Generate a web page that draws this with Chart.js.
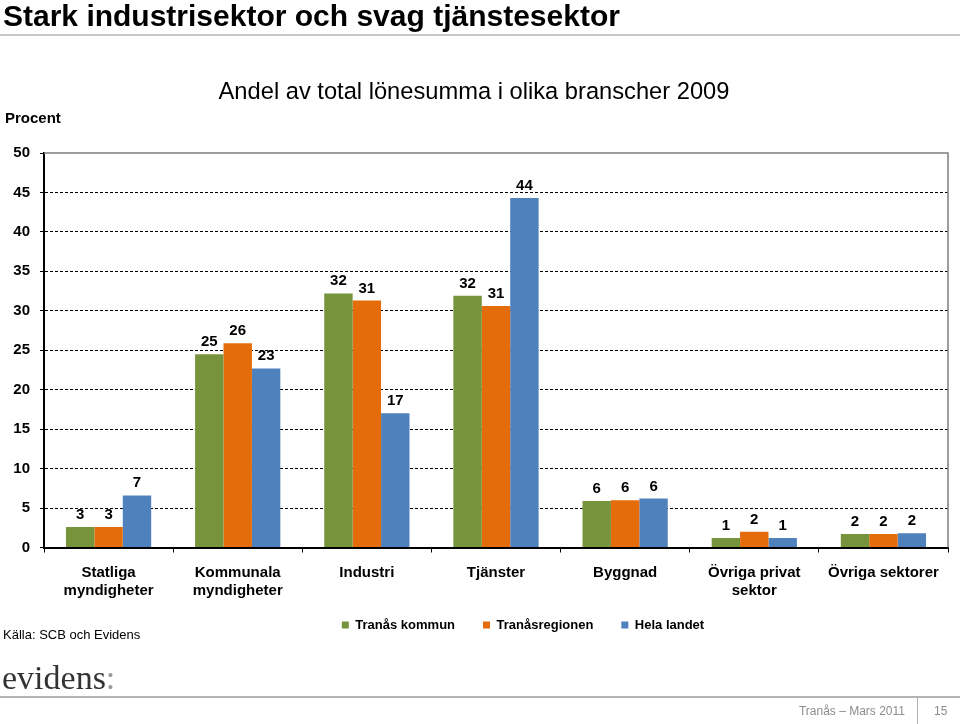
<!DOCTYPE html>
<html>
<head>
<meta charset="utf-8">
<script src="https://cdn.jsdelivr.net/npm/chart.js@4/dist/chart.umd.min.js"></script>
<style>
  body { margin: 0; background: #fff; font-family: "Liberation Sans", Arial, sans-serif; }
  #wrap { position: relative; width: 960px; height: 724px; overflow: hidden; }
  #wrap canvas { position: absolute; left: 0; top: 0; }
  .txt { position: absolute; white-space: nowrap; }
</style>
</head>
<body>
<div id="wrap">
  <canvas id="chart" width="960" height="724"></canvas>
  <div class="txt" style="left:3px;top:1px;font-size:30px;line-height:29px;font-weight:bold;color:#000;">Stark industrisektor och svag tjänstesektor</div>
  <div style="position:absolute;left:0;top:34px;width:960px;height:2px;background:#c8c8c8;"></div>
  <div class="txt" style="left:5px;top:109px;font-size:15px;line-height:18px;font-weight:bold;">Procent</div>
  <div class="txt" style="left:3px;top:627px;font-size:13px;line-height:16px;">Källa: SCB och Evidens</div>
  <div class="txt" style="left:2px;top:661px;font-family:'Liberation Serif','DejaVu Serif',serif;font-size:34px;line-height:34px;color:#333;">evidens<span style="color:#999;">:</span></div>
  <div style="position:absolute;left:0;top:696px;width:960px;height:2px;background:#b4b4b4;"></div>
  <div style="position:absolute;left:917px;top:698px;width:1px;height:26px;background:#b4b4b4;"></div>
  <div class="txt" style="right:55px;top:704px;font-size:12px;line-height:14px;color:#8c8c8c;">Tranås – Mars 2011</div>
  <div class="txt" style="left:934px;top:704px;font-size:12px;line-height:14px;color:#8c8c8c;">15</div>
</div>
<script>
const categories = [["Statliga", "myndigheter"], ["Kommunala", "myndigheter"], "Industri", "Tjänster", "Byggnad", ["Övriga privat", "sektor"], "Övriga sektorer"];
const tranasKommun = [2.6, 24.5, 32.2, 31.9, 5.9, 1.2, 1.7];
const tranasRegionen = [2.6, 25.9, 31.3, 30.6, 6.0, 2.0, 1.7];
const helaLandet = [6.6, 22.7, 17.0, 44.3, 6.2, 1.2, 1.8];

const green = "#77933C";
const orange = "#E46C0A";
const blue = "#4F81BD";

// value labels above the bars, rounded like the original
const barLabels = {
  id: "barLabels",
  afterDatasetsDraw(chart) {
    const ctx = chart.ctx;
    ctx.save();
    ctx.font = "bold 15px 'Liberation Sans', Arial, sans-serif";
    ctx.fillStyle = "#000";
    ctx.textAlign = "center";
    ctx.textBaseline = "alphabetic";
    chart.data.datasets.forEach((ds, i) => {
      chart.getDatasetMeta(i).data.forEach((bar, j) => {
        ctx.fillText(Math.round(ds.data[j]), bar.x, bar.y - 8);
      });
    });
    ctx.restore();
  }
};

// grey frame on top and right of the plot area
const plotFrame = {
  id: "plotFrame",
  afterDraw(chart) {
    const a = chart.chartArea;
    const ctx = chart.ctx;
    ctx.save();
    ctx.strokeStyle = "#7f7f7f";
    ctx.lineWidth = 1.5;
    ctx.beginPath();
    ctx.moveTo(a.left, a.top);
    ctx.lineTo(a.right, a.top);
    ctx.lineTo(a.right, a.bottom);
    ctx.stroke();
    ctx.restore();
  }
};

// move the legend right and up, as in the original slide
const legendShift = {
  id: "legendShift",
  afterLayout(chart) {
    const lg = chart.legend;
    lg.left += 49;
    lg.right += 49;
    lg.top -= 15;
    lg.bottom -= 15;
  }
};

new Chart(document.getElementById("chart"), {
  type: "bar",
  data: {
    labels: categories,
    datasets: [
      { label: "Tranås kommun", data: tranasKommun, backgroundColor: green },
      { label: "Tranåsregionen", data: tranasRegionen, backgroundColor: orange },
      { label: "Hela landet", data: helaLandet, backgroundColor: blue }
    ]
  },
  options: {
    responsive: false,
    animation: false,
    layout: { padding: { top: 77.8, right: 12, bottom: 67.5, left: 0 } },
    datasets: { bar: { barPercentage: 1, categoryPercentage: 0.66 } },
    scales: {
      x: {
        afterFit(scale) { scale.height = 58; },
        grid: { display: true, drawOnChartArea: false, drawTicks: true, tickLength: 5, tickColor: "#000", offset: true },
        border: { display: true, color: "#000", width: 2 },
        ticks: { color: "#000", padding: 11.5, maxRotation: 0, autoSkip: false, font: { family: "'Liberation Sans', Arial, sans-serif", size: 15, weight: "bold", lineHeight: 1.2 } }
      },
      y: {
        min: 0,
        max: 50,
        afterFit(scale) { scale.width = 44; },
        grid: {
          color: (c) => (c.tick && c.tick.value === 50 ? "rgba(0,0,0,0)" : "#000"),
          lineWidth: 1,
          tickLength: 4,
          tickColor: "#000"
        },
        border: { display: true, color: "#000", width: 2, dash: [3, 2] },
        ticks: { stepSize: 5, color: "#000", padding: 10, font: { family: "'Liberation Sans', Arial, sans-serif", size: 15, weight: "bold" } }
      }
    },
    plugins: {
      title: {
        display: true,
        text: "Andel av total lönesumma i olika branscher 2009",
        color: "#000",
        font: { family: "'Liberation Sans', Arial, sans-serif", size: 23.7, weight: "normal" },
        padding: { top: 0, bottom: 46.76 }
      },
      legend: {
        position: "bottom",
        labels: {
          boxWidth: 7,
          boxHeight: 7,
          padding: 28,
          color: "#000",
          font: { family: "'Liberation Sans', Arial, sans-serif", size: 13, weight: "bold" }
        }
      },
      tooltip: { enabled: false }
    }
  },
  plugins: [barLabels, plotFrame, legendShift]
});
</script>
</body>
</html>
